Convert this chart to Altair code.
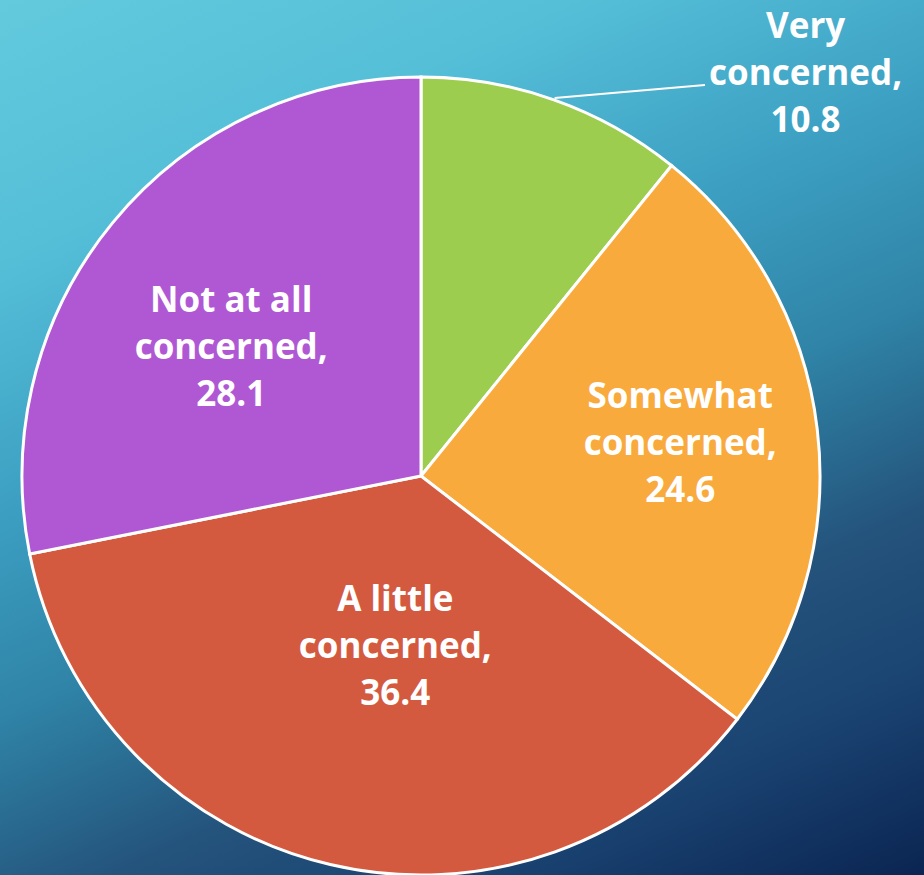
import math
import altair as alt
import pandas as pd

# ---- data ----
categories = ["Very concerned", "Somewhat concerned", "A little concerned", "Not at all concerned"]
values = [10.8, 24.6, 36.4, 28.1]
colors = ["#9dcd4f", "#f9aa3d", "#d45a3f", "#b058d3"]

W, H = 924, 875
CX, CY, R = 421, 476, 399
LH = 47


def make_label(cat, val):
    head = cat.replace(" concerned", "")
    return f"{head}\nconcerned,\n{val}"


df = pd.DataFrame({
    "idx": list(range(len(categories))),
    "cat": categories,
    "value": values,
    "label": [make_label(c, v) for c, v in zip(categories, values)],
})

# label layout: (radius, dx, dy) per slice (dy for block centre; first line is one line up)
label_layout = [
    (401, 251, -24),
    (261, 0, -1),
    (170, 13, 5),
    (230, -12, 18),
]

gradient = alt.LinearGradient(
    gradient="linear",
    x1=0, y1=0, x2=0.572, y2=1.2,
    stops=[
        alt.GradientStop(offset=0.0, color="#63cadd"),
        alt.GradientStop(offset=0.2, color="#55bfd8"),
        alt.GradientStop(offset=0.4, color="#3c9fc2"),
        alt.GradientStop(offset=0.56, color="#2f83a6"),
        alt.GradientStop(offset=0.72, color="#24537c"),
        alt.GradientStop(offset=0.85, color="#1a4372"),
        alt.GradientStop(offset=1.0, color="#0b2552"),
    ],
)

bg = alt.Chart(pd.DataFrame({"a": [0]})).mark_rect(color=gradient).encode(
    x=alt.value(0), x2=alt.value(W), y=alt.value(0), y2=alt.value(H)
)

base = alt.Chart(df)

pie = base.mark_arc(radius=R, stroke="white", strokeWidth=3).encode(
    theta=alt.Theta("value:Q", stack=True),
    color=alt.Color("cat:N", scale=alt.Scale(domain=categories, range=colors), legend=None),
    order=alt.Order("idx:Q"),
    x=alt.value(CX),
    y=alt.value(CY),
)

# leader line for the first slice, from the arc's mid-angle on the edge
total = sum(values)
mid = (values[0] / 2) / total * 2 * math.pi
lx1 = CX + (R + 2) * math.sin(mid)
ly1 = CY - (R + 2) * math.cos(mid)
leader = alt.Chart(pd.DataFrame({"a": [0]})).mark_rule(color="white", strokeWidth=2).encode(
    x=alt.value(lx1), y=alt.value(ly1), x2=alt.value(705), y2=alt.value(85)
)

text_layers = []
for i, (r, dx, dy) in enumerate(label_layout):
    t = base.transform_calculate(
        t=f"datum.idx == {i} ? datum.label : ''"
    ).mark_text(
        radius=r, dx=dx, dy=dy - LH,
        font="Open Sans", fontSize=35, fontWeight="bold",
        color="white", lineBreak="\n", lineHeight=LH,
        align="center", baseline="middle",
    ).encode(
        theta=alt.Theta("value:Q", stack=True),
        order=alt.Order("idx:Q"),
        text="t:N",
        x=alt.value(CX),
        y=alt.value(CY),
    )
    text_layers.append(t)

chart = alt.layer(bg, pie, leader, *text_layers).properties(
    width=W, height=H, padding=0, autosize=alt.AutoSizeParams(type="none")
).configure_view(stroke=None)

chart.save("out.html", embed_options={"renderer": "svg", "actions": False})
